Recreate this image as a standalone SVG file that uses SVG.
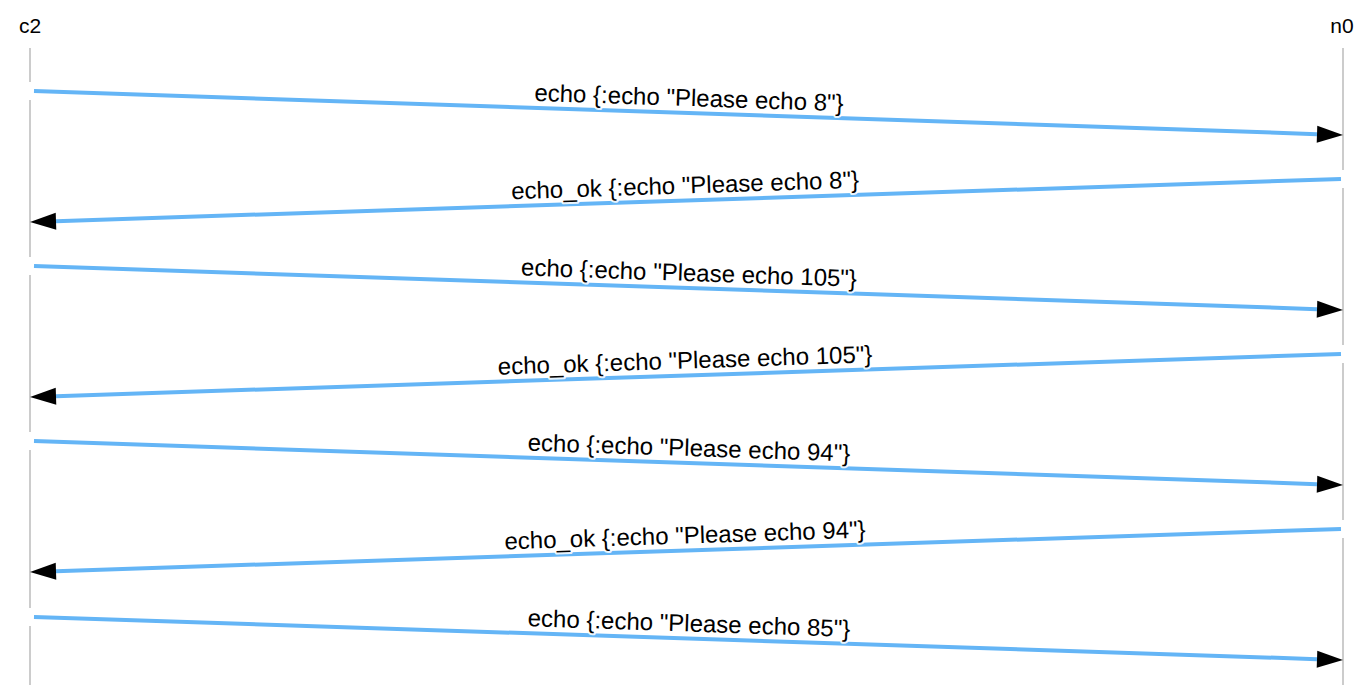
<svg xmlns="http://www.w3.org/2000/svg" width="1369" height="685" viewBox="0 0 1369 685">
<style>
.life{stroke:#cccccc;stroke-width:2;fill:none}
.msg{stroke:#64b5f6;stroke-width:4;fill:none;marker-end:url(#ah)}
.hdr{font-family:"Liberation Sans",Arial,Helvetica,sans-serif;font-size:21px;fill:#000;text-anchor:middle}
.lbl{font-family:"Liberation Sans",Arial,Helvetica,sans-serif;font-size:24px;fill:#000;text-anchor:middle;stroke:#fff;stroke-width:4;stroke-linejoin:round;paint-order:stroke;stroke-opacity:0.85}
</style>
<defs>
<marker id="ah" markerUnits="userSpaceOnUse" markerWidth="27" markerHeight="18" refX="0" refY="8.5" orient="auto" overflow="visible">
<path d="M0,0 L26,8.5 L0,17 Z" fill="#000"/>
</marker>
</defs>
<rect width="1369" height="685" fill="#fff"/>
<g id="c2">
<text class="hdr" x="30" y="33">c2</text>
<path class="life" d="M30,48 V82 M30,100 V257 M30,275 V432 M30,450 V608 M30,626 V685"/>
</g>
<g id="n0">
<text class="hdr" x="1342" y="33">n0</text>
<path class="life" d="M1343,48 V170 M1343,188 V345 M1343,363 V520 M1343,538 V685"/>
</g>
<g id="connectors">
<line class="msg" x1="34" y1="91" x2="1317" y2="134.13"/>
<line class="msg" x1="1341" y1="179" x2="56" y2="221.15"/>
<line class="msg" x1="34" y1="266" x2="1317" y2="309.13"/>
<line class="msg" x1="1341" y1="354" x2="56" y2="396.15"/>
<line class="msg" x1="34" y1="441" x2="1317" y2="484.13"/>
<line class="msg" x1="1341" y1="529" x2="56" y2="571.15"/>
<line class="msg" x1="34" y1="617" x2="1317" y2="659.13"/>
</g>
<g id="labels">
<text class="lbl" transform="translate(688.5,113) rotate(1.925)" x="0" y="-7">echo {:echo "Please echo 8"}</text>
<text class="lbl" transform="translate(685.5,200.5) rotate(-1.879)" x="0" y="-7">echo_ok {:echo "Please echo 8"}</text>
<text class="lbl" transform="translate(688.5,288) rotate(1.925)" x="0" y="-7">echo {:echo "Please echo 105"}</text>
<text class="lbl" transform="translate(685.5,375.5) rotate(-1.879)" x="0" y="-7">echo_ok {:echo "Please echo 105"}</text>
<text class="lbl" transform="translate(688.5,463) rotate(1.925)" x="0" y="-7">echo {:echo "Please echo 94"}</text>
<text class="lbl" transform="translate(685.5,550.5) rotate(-1.879)" x="0" y="-7">echo_ok {:echo "Please echo 94"}</text>
<text class="lbl" transform="translate(688.5,638.5) rotate(1.925)" x="0" y="-7">echo {:echo "Please echo 85"}</text>
</g>
</svg>
